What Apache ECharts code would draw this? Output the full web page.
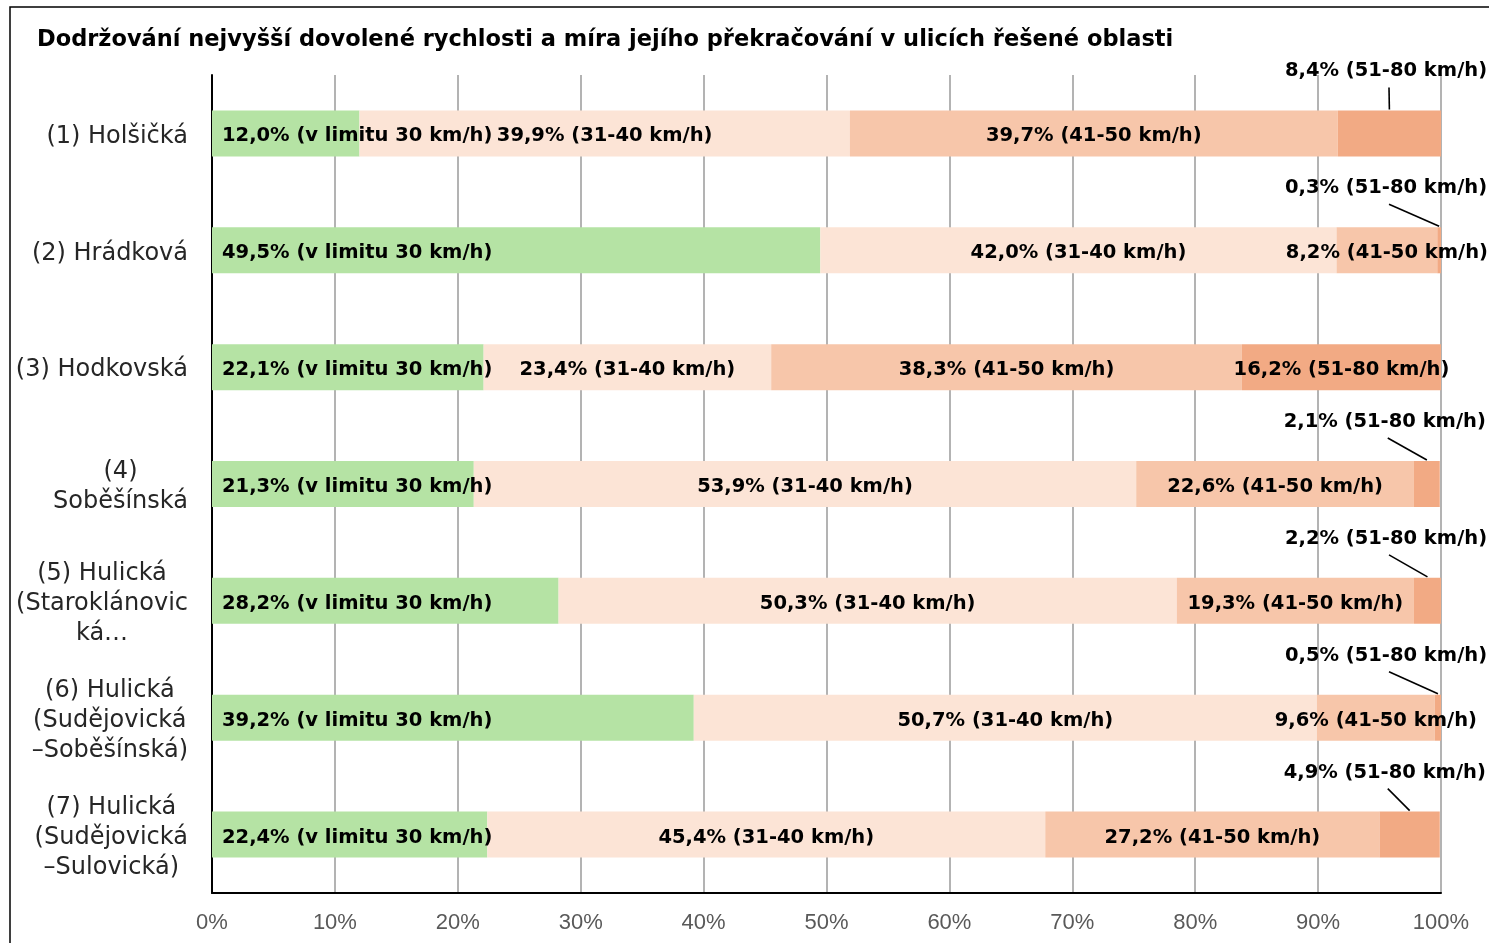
<!DOCTYPE html>
<html>
<head>
<meta charset="utf-8">
<script src="https://cdn.jsdelivr.net/npm/echarts@6/dist/echarts.min.js"></script>
<style>
  html, body { margin: 0; padding: 0; background: #fff; }
  #chart { width: 1489px; height: 943px; }
</style>
</head>
<body>
<div id="chart"></div>
<script>
// ulice (kategorie osy Y), zalomené jako v originále
const streets = [
  '(1) Holšičká',
  '(2) Hrádková',
  '(3) Hodkovská',
  '(4)\nSoběšínská',
  '(5) Hulická\n(Staroklánovic\nká…',
  '(6) Hulická\n(Sudějovická\n–Soběšínská)',
  '(7) Hulická\n(Sudějovická\n–Sulovická)'
]

const speedBands = ['v limitu 30 km/h', '31-40 km/h', '41-50 km/h', '51-80 km/h']

// podíly vozidel v %
const inLimit = [12.0, 49.5, 22.1, 21.3, 28.2, 39.2, 22.4]
const speed31to40 = [39.9, 42.0, 23.4, 53.9, 50.3, 50.7, 45.4]
const speed41to50 = [39.7, 8.2, 38.3, 22.6, 19.3, 9.6, 27.2]
const speed51to80 = [8.4, 0.3, 16.2, 2.1, 2.2, 0.5, 4.9]

const xTicks = [0, 10, 20, 30, 40, 50, 60, 70, 80, 90, 100]

const colors = ['#b5e3a4', '#fce4d6', '#f7c6aa', '#f2aa84']

const fmt = (v) => v.toFixed(1).replace('.', ',') + '%'

const chart = echarts.init(document.getElementById('chart'))

const BAR_W = 46
const labelFont = {
  fontFamily: 'DejaVu Sans',
  fontWeight: 'bold',
  fontSize: 19.5,
  color: '#000'
}

const makeSeries = (values, idx) => ({
  name: speedBands[idx],
  type: 'bar',
  stack: 'total',
  barWidth: BAR_W,
  itemStyle: { color: colors[idx] },
  label: Object.assign({
    show: true,
    position: idx === 0 ? 'insideLeft' : 'inside',
    distance: 10,
    offset: [0, 3],
    formatter: (p) => fmt(p.value) + ' (' + speedBands[idx] + ')'
  }, labelFont),
  data: values
})

const series = [inLimit, speed31to40, speed41to50, speed51to80].map(makeSeries)

// poslední pásmo: úzké úseky mají popisek nad pruhem
const isNarrow = (v) => v < 10
const last = series[3]
last.labelLayout = (params) => {
  if (!isNarrow(speed51to80[params.dataIndex])) return { dy: 3 }
  const r = params.rect
  return {
    x: r.x + r.width - 55,
    y: r.y - 39,
    align: 'center',
    verticalAlign: 'middle'
  }
}

// odkazové čáry od popisku k úzkému úseku
const leaderData = []
speed51to80.forEach((v, i) => {
  if (!isNarrow(v)) return
  const start = inLimit[i] + speed31to40[i] + speed41to50[i]
  leaderData.push([start, i, start + v])
})

series.push({
  type: 'custom',
  silent: true,
  z: 5,
  encode: { x: [0, 2], y: 1 },
  renderItem: (params, api) => {
    const a = api.coord([api.value(0), api.value(1)])
    const b = api.coord([api.value(2), api.value(1)])
    const top = a[1] - BAR_W / 2
    const lx = b[0] - 55 + 3
    const ly = top - 23
    return {
      type: 'line',
      shape: { x1: lx, y1: ly, x2: (a[0] + b[0]) / 2, y2: top - 1 },
      style: { stroke: '#000', lineWidth: 1.6 }
    }
  },
  data: leaderData
})

const options = {
  animation: false,
  title: {
    text: 'Dodržování nejvyšší dovolené rychlosti a míra jejího překračování v ulicích řešené oblasti',
    left: 37,
    top: 29,
    padding: 0,
    textStyle: {
      fontFamily: 'DejaVu Sans',
      fontWeight: 'bold',
      fontSize: 22.5,
      color: '#000'
    }
  },
  graphic: [
    {
      type: 'rect',
      shape: { x: 10, y: 7, width: 1600, height: 1000 },
      style: { fill: null, stroke: '#000', lineWidth: 1.5 },
      silent: true
    }
  ],
  grid: {
    left: 212,
    right: 48,
    top: 75,
    bottom: 50
  },
  xAxis: {
    type: 'value',
    min: xTicks[0],
    max: xTicks[xTicks.length - 1],
    interval: xTicks[1] - xTicks[0],
    axisLine: { show: true, lineStyle: { color: '#000', width: 2 } },
    axisTick: { show: false },
    splitLine: { show: true, lineStyle: { color: '#b3b3b3', width: 2 } },
    axisLabel: {
      margin: 19,
      formatter: '{value}%',
      fontFamily: 'Liberation Sans',
      fontSize: 22,
      color: '#595959'
    }
  },
  yAxis: {
    type: 'category',
    inverse: true,
    data: streets,
    axisLine: { show: true, lineStyle: { color: '#000', width: 2 } },
    axisTick: { show: false },
    axisLabel: {
      margin: 24,
      align: 'right',
      padding: [6, 0, 0, 0],
      formatter: (v) => v.split('\n').map(s => '{c|' + s + '}').join('\n'),
      rich: {
        c: {
          align: 'center',
          fontFamily: 'DejaVu Sans',
          fontSize: 24,
          lineHeight: 30,
          color: '#262626'
        }
      }
    }
  },
  series: series
}

chart.setOption(options)
window.onresize = () => { chart.resize() }
</script>
</body>
</html>
